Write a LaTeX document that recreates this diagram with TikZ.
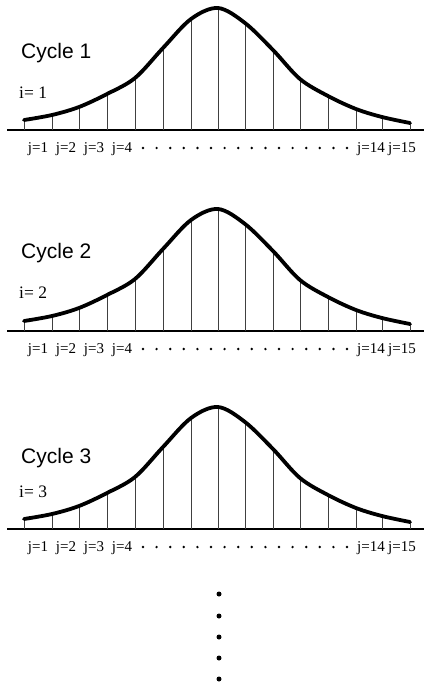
\documentclass[tikz,border=0pt]{standalone}
\usepackage{fontspec}
\setmainfont{Liberation Serif}
\newfontfamily\cyclefont{Liberation Sans}
\begin{document}
\begin{tikzpicture}[x=1pt,y=-1pt,
  curve/.style={line width=3.8pt,line cap=round,line join=round},
  axisline/.style={line width=2.8pt},
  ord/.style={line width=0.5pt,black!75},
  cyc/.style={font=\cyclefont\fontsize{21}{21}\selectfont,anchor=base west,inner sep=0},
  ilab/.style={font=\fontsize{17.5}{17.5}\selectfont,anchor=base west,inner sep=0},
  jlab/.style={font=\fontsize{15}{15}\selectfont,anchor=base,inner sep=0},
  sdot/.style={circle,fill=black,inner sep=0,minimum size=2.7pt},
  vdot/.style={circle,fill=black,inner sep=0,minimum size=5pt}]
\useasboundingbox (0,0) rectangle (424,685);

\foreach \n/\b/\cy/\iy in {1/130/59/99, 2/331/258/298, 3/529/463/497} {
  \draw[axisline] (7,\b) -- (424,\b);
  \foreach \x/\h in {24/10,52/15,79/23,107/36,135/52,163/82,191/111,218/122,245/107,273/80,300/51,328/34,356/21,382/13,410/7} {
    \draw[ord] (\x,\b) -- (\x,\b-\h);
  }
  \draw[curve] plot[smooth,tension=0.55] coordinates {(24,\b-10) (52,\b-15) (79,\b-23) (107,\b-36) (135,\b-52) (163,\b-82) (191,\b-111) (218,\b-122) (245,\b-107) (273,\b-80) (300,\b-51) (328,\b-34) (356,\b-21) (382,\b-13) (410,\b-7)};
  \node[cyc] (cycle\n) at (21,\cy) {Cycle \n};
  \node[ilab] (i\n) at (19,\iy) {i= \n};
  \node[jlab] (ja\n) at (38,\b+22) {j=1};
  \node[jlab] (jb\n) at (66,\b+22) {j=2};
  \node[jlab] (jc\n) at (94,\b+22) {j=3};
  \node[jlab] (jd\n) at (122,\b+22) {j=4};
  \node[jlab] (je\n) at (371,\b+22) {j=14};
  \node[jlab] (jf\n) at (402,\b+22) {j=15};
  \foreach \k in {0,...,15} {
    \node[sdot] (d\n-\k) at ({143+\k*13.6},\b+18) {};
  }
}
\foreach \k/\y in {1/594,2/616,3/637,4/658,5/679} {
  \node[vdot] (more\k) at (219,\y) {};
}
\end{tikzpicture}
\end{document}
